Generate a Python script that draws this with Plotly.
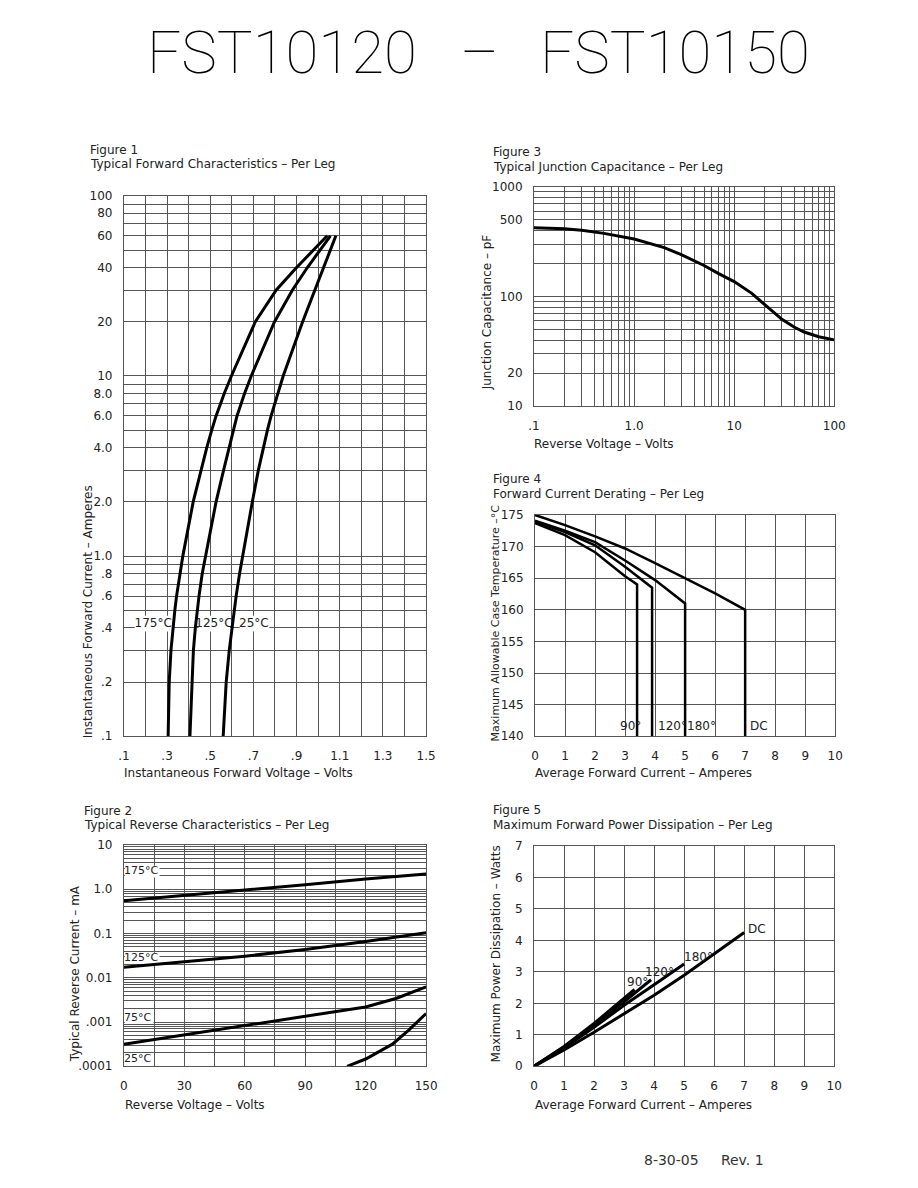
import plotly.graph_objects as go

# the page has an 8px body margin, so the figure is 16px smaller than the window
W, H = 902, 1172
PAD = 8
FONT = "DejaVu Sans"
INK = "#222222"
GRID = "#555555"

# Figure 1 - typical forward characteristics (current in A, voltage in V)
FIG1_CURRENT = [0.1, 0.2, 0.3, 0.4, 0.5, 0.6, 0.8, 1, 2, 3, 4, 5, 6, 8, 10, 20, 30, 40, 50, 60]
FIG1_V_175 = [0.305, 0.310, 0.318, 0.327, 0.336, 0.344, 0.359, 0.373, 0.421, 0.456, 0.484, 0.507,
              0.527, 0.565, 0.598, 0.709, 0.806, 0.900, 0.979, 1.042]
FIG1_V_125 = [0.406, 0.414, 0.422, 0.431, 0.440, 0.448, 0.463, 0.479, 0.527, 0.562, 0.587, 0.606,
              0.624, 0.659, 0.690, 0.798, 0.881, 0.950, 1.010, 1.057]
FIG1_V_25 = [0.560, 0.574, 0.588, 0.600, 0.610, 0.620, 0.636, 0.650, 0.695, 0.723, 0.746, 0.765,
             0.782, 0.812, 0.838, 0.928, 0.986, 1.027, 1.058, 1.082]
FIG1_LABELS = ["175°C", "125°C", "25°C"]
FIG1_LABEL_V = [0.236, 0.517, 0.702]
FIG1_LABEL_I = [0.42, 0.42, 0.42]

# Figure 2 - typical reverse characteristics (voltage in V, current in mA)
FIG2_V_175 = [0, 30, 60, 90, 120, 150]
FIG2_I_175 = [0.55, 0.72, 0.95, 1.27, 1.70, 2.2]
FIG2_V_125 = [0, 30, 60, 90, 120, 150]
FIG2_I_125 = [0.0173, 0.0228, 0.0308, 0.0435, 0.0658, 0.104]
FIG2_V_75 = [0, 30, 60, 90, 120, 135, 150]
FIG2_I_75 = [0.000316, 0.000513, 0.000832, 0.00135, 0.00219, 0.0034, 0.0062]
FIG2_V_25 = [110.8, 120, 133.3, 141.4, 150]
FIG2_I_25 = [0.0001, 0.000146, 0.000316, 0.00066, 0.00156]
FIG2_LABELS = ["175°C", "125°C", "75°C", "25°C"]
FIG2_LABEL_V = [0, 0, 0, 0]
FIG2_LABEL_I = [2.5, 0.0275, 0.00124, 0.000142]

# Figure 3 - junction capacitance (voltage in V, capacitance in pF)
FIG3_V = [0.1, 0.2, 0.3, 0.5, 1, 2, 3, 5, 7, 10, 15, 20, 30, 40, 50, 70, 100]
FIG3_C = [425, 416, 402, 377, 335, 280, 240, 192, 162, 137, 107, 85, 62, 52.5, 47.5, 43, 40.3]

# Figure 4 - forward current derating (A, deg C)
FIG4_I_90 = [0, 1, 2, 3, 3.4, 3.4]
FIG4_T_90 = [173.7, 171.8, 169.1, 165.3, 164.0, 140]
FIG4_I_120 = [0, 1, 2, 3, 3.9, 3.9]
FIG4_T_120 = [173.9, 172.3, 170.2, 166.8, 163.5, 140]
FIG4_I_180 = [0, 1, 2, 3, 4, 5, 5]
FIG4_T_180 = [174.1, 172.5, 170.7, 167.8, 164.7, 161.0, 140]
FIG4_I_DC = [0, 1, 2, 3, 4, 5, 6, 7, 7]
FIG4_T_DC = [175, 173.4, 171.6, 169.7, 167.4, 165.0, 162.6, 160.0, 140]
FIG4_LABELS = ["90°", "120°", "180°", "DC"]
FIG4_LABEL_I = [2.80, 4.05, 5.03, 7.12]
FIG4_LABEL_T = 141.7

# Figure 5 - forward power dissipation (A, W)
FIG5_I_90 = [0, 1, 2, 3, 3.35]
FIG5_P_90 = [0, 0.63, 1.36, 2.17, 2.44]
FIG5_I_120 = [0, 1, 2, 3, 3.9]
FIG5_P_120 = [0, 0.61, 1.31, 2.05, 2.75]
FIG5_I_180 = [0, 1, 2, 3, 4, 5]
FIG5_P_180 = [0, 0.58, 1.24, 1.94, 2.59, 3.25]
FIG5_I_DC = [0, 1, 2, 3, 4, 5, 6, 7]
FIG5_P_DC = [0, 0.52, 1.08, 1.68, 2.26, 2.89, 3.57, 4.25]
FIG5_LABELS = ["90°", "120°", "180°", "DC"]
FIG5_LABEL_I = [3.08, 3.67, 4.97, 7.08]
FIG5_LABEL_P = [2.67, 2.98, 3.48, 4.37]

# tick labels
FIG1_X_LABELS = {0.1: ".1", 0.3: ".3", 0.5: ".5", 0.7: ".7", 0.9: ".9", 1.1: "1.1", 1.3: "1.3", 1.5: "1.5"}
FIG1_Y_LABELS = {0.1: ".1", 0.2: ".2", 0.4: ".4", 0.6: ".6", 0.8: ".8", 1: "1.0", 2: "2.0", 4: "4.0",
                 6: "6.0", 8: "8.0", 10: "10", 20: "20", 40: "40", 60: "60", 80: "80", 100: "100"}
FIG2_X_LABELS = {0: "0", 30: "30", 60: "60", 90: "90", 120: "120", 150: "150"}
FIG2_Y_LABELS = {0.0001: ".0001", 0.001: ".001", 0.01: "0.01", 0.1: "0.1", 1: "1.0", 10: "10"}
FIG3_X_LABELS = {0.1: ".1", 1: "1.0", 10: "10", 100: "100"}
FIG3_Y_LABELS = {10: "10", 20: "20", 100: "100", 500: "500", 1000: "1000"}
AMP_LABELS = {v: str(v) for v in range(0, 11)}
FIG4_Y_LABELS = {v: str(v) for v in range(140, 176, 5)}
FIG5_Y_LABELS = {v: str(v) for v in range(0, 8)}

FIG1_X_RANGE, FIG1_Y_RANGE = [0.1, 1.5], [-1, 2]
FIG2_X_RANGE, FIG2_Y_RANGE = [0, 150], [-4, 1]


def log_grid(lo_exp, hi_exp):
    vals = [m * 10.0 ** e for e in range(lo_exp, hi_exp) for m in range(1, 10)]
    return vals + [10.0 ** hi_exp]


def fx(px):
    return (px - PAD) / W


def fy(py):
    return 1 - (py - PAD) / H


def sub(ax):
    # plotly names the first subplot "x"/"y", not "x1"/"y1"
    return "" if ax == "1" else ax


def frac_to_data(frac, rng, log=False):
    v = rng[0] + frac * (rng[1] - rng[0])
    return 10 ** v if log else v


def make_axis(domain, rng, vals, labels, anchor, log=False):
    text = [labels.get(round(v, 6), "") for v in vals]
    return dict(
        domain=domain, range=rng, type="log" if log else "linear", anchor=anchor,
        tickmode="array", tickvals=vals, ticktext=text,
        showgrid=True, gridcolor=GRID, gridwidth=1,
        showline=True, linecolor=GRID, linewidth=1, mirror=True,
        zeroline=False, ticks="", ticklabelstandoff=8,
        tickfont=dict(family=FONT, size=12, color=INK), fixedrange=True,
    )


def curve(x, y, ax, width=3):
    return go.Scatter(
        x=x, y=y, mode="lines", xaxis="x" + sub(ax), yaxis="y" + sub(ax), showlegend=False,
        line=dict(color="black", width=width), hoverinfo="skip",
    )


def label_trace(x, y, labels, ax, size, position):
    return go.Scatter(
        x=x, y=y, text=labels, mode="text", textposition=position,
        xaxis="x" + sub(ax), yaxis="y" + sub(ax),
        textfont=dict(family=FONT, size=size, color=INK), showlegend=False, hoverinfo="skip",
        cliponaxis=False,
    )


def text(s, x, y, size=12, xanchor="left", xref="paper", yref="paper", angle=0, color=INK):
    return dict(text=s, x=x, y=y, xref=xref, yref=yref, xanchor=xanchor, yanchor="middle",
                showarrow=False, textangle=angle, borderpad=0,
                font=dict(family=FONT, size=size, color=color))


fig = go.Figure()

# curve labels sit under the curves, like the original sheet
fig.add_trace(label_trace(FIG1_LABEL_V, FIG1_LABEL_I, FIG1_LABELS, "1", 12, "middle center"))
fig.add_trace(label_trace(FIG2_LABEL_V, FIG2_LABEL_I, FIG2_LABELS, "2", 11, "middle right"))

for v in (FIG1_V_175, FIG1_V_125, FIG1_V_25):
    fig.add_trace(curve(v, FIG1_CURRENT, "1"))

fig.add_trace(curve(FIG2_V_175, FIG2_I_175, "2"))
fig.add_trace(curve(FIG2_V_125, FIG2_I_125, "2"))
fig.add_trace(curve(FIG2_V_75, FIG2_I_75, "2"))
fig.add_trace(curve(FIG2_V_25, FIG2_I_25, "2"))

fig.add_trace(curve(FIG3_V, FIG3_C, "3"))

fig.add_trace(curve(FIG4_I_90, FIG4_T_90, "4", 2.5))
fig.add_trace(curve(FIG4_I_120, FIG4_T_120, "4", 2.5))
fig.add_trace(curve(FIG4_I_180, FIG4_T_180, "4", 2.5))
fig.add_trace(curve(FIG4_I_DC, FIG4_T_DC, "4", 2.5))

fig.add_trace(curve(FIG5_I_90, FIG5_P_90, "5"))
fig.add_trace(curve(FIG5_I_120, FIG5_P_120, "5"))
fig.add_trace(curve(FIG5_I_180, FIG5_P_180, "5"))
fig.add_trace(curve(FIG5_I_DC, FIG5_P_DC, "5"))

# white patches that hide the grid behind the curve labels (fractions of the plot box)
label_boxes = [
    ("1", FIG1_X_RANGE, FIG1_Y_RANGE, 0.036, 0.159, 0.194, 0.223),
    ("1", FIG1_X_RANGE, FIG1_Y_RANGE, 0.247, 0.351, 0.194, 0.223),
    ("1", FIG1_X_RANGE, FIG1_Y_RANGE, 0.383, 0.481, 0.194, 0.223),
    ("2", FIG2_X_RANGE, FIG2_Y_RANGE, 0.003, 0.118, 0.853, 0.906),
    ("2", FIG2_X_RANGE, FIG2_Y_RANGE, 0.003, 0.118, 0.466, 0.513),
    ("2", FIG2_X_RANGE, FIG2_Y_RANGE, 0.003, 0.098, 0.192, 0.246),
    ("2", FIG2_X_RANGE, FIG2_Y_RANGE, 0.003, 0.098, 0.004, 0.058),
]
for ax, xr, yr, x0, x1, y0, y1 in label_boxes:
    fig.add_shape(type="rect", xref="x" + sub(ax), yref="y" + sub(ax),
                  x0=frac_to_data(x0, xr), x1=frac_to_data(x1, xr),
                  y0=frac_to_data(y0, yr, log=True), y1=frac_to_data(y1, yr, log=True),
                  fillcolor="white", line=dict(width=0), layer="between")

layout_axes = dict(
    xaxis=make_axis([fx(120), fx(428)], FIG1_X_RANGE, [round(0.1 * k, 1) for k in range(1, 16)],
                    FIG1_X_LABELS, "y"),
    yaxis=make_axis([fy(738), fy(191)], FIG1_Y_RANGE, log_grid(-1, 2), FIG1_Y_LABELS, "x", log=True),
    xaxis2=make_axis([fx(120), fx(428)], FIG2_X_RANGE, list(range(0, 151, 15)), FIG2_X_LABELS, "y2"),
    yaxis2=make_axis([fy(1072), fy(848)], FIG2_Y_RANGE, log_grid(-4, 1), FIG2_Y_LABELS, "x2", log=True),
    xaxis3=make_axis([fx(538), fx(844)], [-1, 2], log_grid(-1, 2), FIG3_X_LABELS, "y3", log=True),
    yaxis3=make_axis([fy(404), fy(182)], [1, 3], log_grid(1, 3), FIG3_Y_LABELS, "x3", log=True),
    xaxis4=make_axis([fx(539), fx(845)], [0, 10], list(range(0, 11)), AMP_LABELS, "y4"),
    yaxis4=make_axis([fy(738), fy(514)], [140, 175], list(range(140, 176, 5)), FIG4_Y_LABELS, "x4"),
    xaxis5=make_axis([fx(538), fx(844)], [0, 10], list(range(0, 11)), AMP_LABELS, "y5"),
    yaxis5=make_axis([fy(1072), fy(849)], [0, 7], list(range(0, 8)), FIG5_Y_LABELS, "x5"),
)

notes = []
# main title
for s, cx in [("FST10120", 281.5), ("–", 482), ("FST10150", 681.5)]:
    notes.append(dict(text=s, x=fx(cx), y=fy(46), xref="paper", yref="paper", xanchor="center",
                      yanchor="middle", showarrow=False,
                      font=dict(family="Roboto", size=60, color="black", weight=100)))

# figure headers
headers = [
    ("Figure 1", "Typical Forward Characteristics – Per Leg", 84, 145, 159),
    ("Figure 2", "Typical Reverse Characteristics – Per Leg", 78, 814, 828),
    ("Figure 3", "Typical Junction Capacitance – Per Leg", 495, 147, 162),
    ("Figure 4", "Forward Current Derating – Per Leg", 495, 478, 493),
    ("Figure 5", "Maximum Forward Power Dissipation – Per Leg", 495, 813, 828),
]
for fig_name, subtitle, x0, y0, y1 in headers:
    notes.append(text(fig_name, fx(x0), fy(y0)))
    notes.append(text(subtitle, fx(x0), fy(y1)))

# x axis titles
for s, x0, y0 in [
    ("Instantaneous Forward Voltage – Volts", 119, 775),
    ("Reverse Voltage – Volts", 120, 1111),
    ("Reverse Voltage – Volts", 537, 442),
    ("Average Forward Current – Amperes", 538, 775),
    ("Average Forward Current – Amperes", 538, 1111),
]:
    notes.append(text(s, fx(x0), fy(y0)))

# y axis titles
for s, x0, y0, size in [
    ("Instantaneous Forward Current – Amperes", 83, 612, 12),
    ("Typical Reverse Current – mA", 71, 978, 12),
    ("Junction Capacitance – pF", 491, 309, 12),
    ("Maximum Allowable Case Temperature –°C", 499, 623, 11),
    ("Maximum Power Dissipation – Watts", 499, 958, 12),
]:
    notes.append(text(s, fx(x0), fy(y0), size=size, xanchor="center", angle=-90))

for s, i in zip(FIG4_LABELS, FIG4_LABEL_I):
    notes.append(text(s, i, FIG4_LABEL_T, xref="x4", yref="y4"))
for s, i, p in zip(FIG5_LABELS, FIG5_LABEL_I, FIG5_LABEL_P):
    notes.append(text(s, i, p, xref="x5", yref="y5"))

# footer
notes.append(text("8-30-05" + "\u00a0" * 5 + "Rev. 1", fx(649), fy(1167), size=14, color="#333333"))

fig.update_layout(
    width=W, height=H, margin=dict(l=0, r=0, t=0, b=0),
    paper_bgcolor="white", plot_bgcolor="white",
    annotations=notes, showlegend=False,
    **layout_axes,
)

fig.write_html("out.html")
